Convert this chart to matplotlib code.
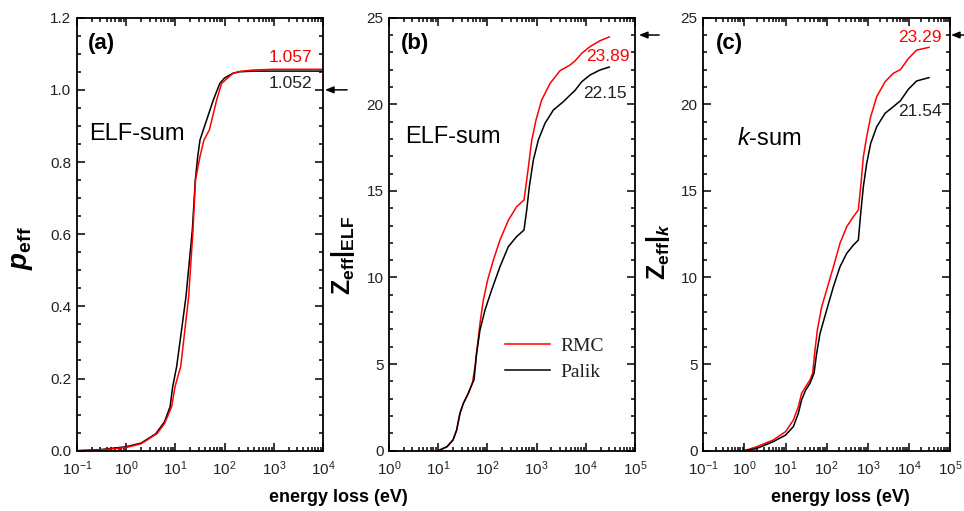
import matplotlib
matplotlib.use("Agg")
import matplotlib.pyplot as plt
from matplotlib.ticker import LogLocator, MultipleLocator, NullFormatter

plt.rcParams['font.family'] = ['Liberation Sans', 'DejaVu Sans']
plt.rcParams['mathtext.fontset'] = 'custom'
plt.rcParams['mathtext.rm'] = 'Liberation Sans'
plt.rcParams['mathtext.bf'] = 'Liberation Sans:bold'
plt.rcParams['mathtext.it'] = 'Liberation Sans:italic'
plt.rcParams['mathtext.cal'] = 'Liberation Sans:bold:italic'
plt.rcParams['axes.unicode_minus'] = False

RED = '#ff0000'
BLACK = '#000000'
TICK_COLOR = '#222222'

# (a) effective number of electrons from the ELF sum rule
a_palik_E = [0.1, 0.3, 1, 2, 4, 6, 7.8, 8.8, 10.6, 13, 16.4, 20, 22.1, 25.4, 28.4,
             31.6, 36.9, 45, 59, 80, 100, 148, 200, 380, 1000, 1e4]
a_palik_p = [0, 0.003, 0.011, 0.021, 0.047, 0.08, 0.122, 0.177, 0.233, 0.323, 0.427,
             0.55, 0.612, 0.75, 0.815, 0.861, 0.889, 0.924, 0.972, 1.018, 1.033,
             1.046, 1.05, 1.052, 1.052, 1.052]
a_rmc_E = [0.1, 0.3, 1, 2, 4.2, 6, 8.4, 9.8, 12.8, 15, 18.6, 22.8, 25.6, 31.6, 38,
           49, 69, 87, 148, 200, 380, 1000, 1e4]
a_rmc_p = [0, 0.002, 0.009, 0.019, 0.047, 0.075, 0.122, 0.177, 0.233, 0.315, 0.427,
           0.612, 0.75, 0.815, 0.861, 0.889, 0.972, 1.018, 1.046, 1.051, 1.055,
           1.057, 1.057]

# (b) Z_eff from the ELF sum rule
b_rmc_E = [10, 15.1, 20, 23.7, 27.7, 32.4, 40.9, 49.4, 56, 62.4, 70.7, 82.6, 101,
           132, 180, 266, 393, 554, 630, 711, 794, 973, 1268, 1870, 2990, 4780,
           6030, 8240, 12170, 19400, 30000]
b_rmc_Z = [0, 0.23, 0.62, 1.19, 2.16, 2.73, 3.31, 3.89, 4.85, 6.0, 7.35, 8.7, 9.85,
           11.0, 12.16, 13.3, 14.09, 14.47, 15.63, 16.8, 17.9, 19.1, 20.25, 21.2,
           21.94, 22.27, 22.5, 22.94, 23.33, 23.67, 23.89]
b_palik_E = [10, 15.1, 20, 23.7, 27.7, 32.4, 40.9, 49.4, 53.4, 60.3, 70.7, 89.4,
             122, 180, 266, 393, 554, 630, 711, 858, 1085, 1480, 2190, 3490, 4780,
             6030, 8240, 12170, 19400, 30000]
b_palik_Z = [0, 0.23, 0.62, 1.19, 2.16, 2.73, 3.31, 3.89, 4.08, 5.62, 6.97, 8.12,
             9.28, 10.62, 11.78, 12.36, 12.74, 13.9, 15.24, 16.78, 17.94, 18.9,
             19.67, 20.15, 20.53, 20.8, 21.3, 21.69, 21.98, 22.15]

# (c) Z_eff from the k sum rule
c_rmc_E = [1, 1.99, 5.05, 10, 15.5, 20.5, 24.6, 30.9, 39.3, 45.7, 51, 59.4, 75.8,
           100, 146, 211, 307, 446, 590, 685, 781, 942, 1177, 1648, 2630, 4170,
           6200, 9800, 15500, 30900]
c_rmc_Z = [0, 0.23, 0.62, 1.1, 1.77, 2.54, 3.31, 3.7, 4.08, 4.47, 5.62, 6.97, 8.31,
           9.28, 10.62, 11.97, 12.93, 13.51, 13.9, 15.43, 16.97, 18.13, 19.28,
           20.44, 21.3, 21.79, 22.0, 22.65, 23.13, 23.29]
c_palik_E = [1, 2, 5, 10, 15.5, 20.5, 24.6, 30.9, 39.3, 49.3, 57.1, 69, 100, 146,
             211, 307, 446, 590, 673, 781, 942, 1177, 1648, 2630, 4170, 6200, 9800,
             15500, 30900]
c_palik_Z = [0, 0.13, 0.52, 0.9, 1.39, 2.16, 2.93, 3.5, 3.89, 4.47, 5.62, 6.77,
             8.12, 9.47, 10.62, 11.39, 11.87, 12.16, 13.7, 15.24, 16.59, 17.74,
             18.7, 19.48, 19.86, 20.2, 20.88, 21.35, 21.54]

series_labels = ['RMC', 'Palik']
panel_tags = ['(a)', '(b)', '(c)']
sum_labels = ['ELF-sum', 'ELF-sum', r'$\mathit{k}$-sum']
a_final = ['1.057', '1.052']
b_final = ['23.89', '22.15']
c_final = ['23.29', '21.54']

fig = plt.figure(figsize=(9.64, 5.11), dpi=100)
W, H = 964, 511


def make_axes(left_px, right_px, top_px=17.7, bottom_px=450.7):
    return fig.add_axes([left_px / W, 1 - bottom_px / H,
                         (right_px - left_px) / W, (bottom_px - top_px) / H])


axA = make_axes(77, 323)
axB = make_axes(389, 635)
axC = make_axes(703.3, 950)


def style_axes(ax, xlim, ylim, ymajor, yminor, yfmt):
    ax.set_xscale('log')
    ax.set_xlim(*xlim)
    ax.set_ylim(*ylim)
    ax.xaxis.set_major_locator(LogLocator(base=10, numticks=20))
    ax.xaxis.set_minor_locator(LogLocator(base=10, subs=range(2, 10), numticks=20))
    ax.xaxis.set_minor_formatter(NullFormatter())
    ax.yaxis.set_major_locator(MultipleLocator(ymajor))
    ax.yaxis.set_minor_locator(MultipleLocator(yminor))
    ax.yaxis.set_major_formatter(yfmt)
    ax.tick_params(which='both', direction='in', top=True, right=True,
                   width=1.1, colors=BLACK, labelcolor=TICK_COLOR, labelsize=11)
    ax.tick_params(which='major', length=6)
    ax.tick_params(which='minor', length=3)
    ax.tick_params(axis='x', which='major', pad=6)
    ax.tick_params(axis='y', which='major', pad=4)
    for s in ax.spines.values():
        s.set_linewidth(1.3)


style_axes(axA, (0.1, 1e4), (0, 1.2), 0.2, 0.05, '{x:.1f}')
style_axes(axB, (1, 1e5), (0, 25), 5, 1, '{x:.0f}')
style_axes(axC, (0.1, 1e5), (0, 25), 5, 1, '{x:.0f}')

lw = 1.1
axA.plot(a_palik_E, a_palik_p, color=BLACK, lw=lw)
axA.plot(a_rmc_E, a_rmc_p, color=RED, lw=lw)
axB.plot(b_rmc_E, b_rmc_Z, color=RED, lw=lw, label=series_labels[0])
axB.plot(b_palik_E, b_palik_Z, color=BLACK, lw=lw, label=series_labels[1])
axC.plot(c_rmc_E, c_rmc_Z, color=RED, lw=lw)
axC.plot(c_palik_E, c_palik_Z, color=BLACK, lw=lw)

leg = axB.legend(loc='upper left', bbox_to_anchor=(0.47, 0.262), frameon=False,
                 prop={'family': 'Liberation Serif', 'size': 14},
                 handlelength=2.35, handletextpad=0.5, labelspacing=0.42,
                 borderaxespad=0, borderpad=0)
for t in leg.get_texts():
    t.set_color('#222222')

# panel tags and sum-rule names
for ax, tag, x in zip([axA, axB, axC], panel_tags, [0.045, 0.049, 0.051]):
    ax.text(x, 0.94, tag, transform=ax.transAxes, fontsize=16, fontweight='bold',
            va='center', ha='left')
axA.text(0.05, 0.731, sum_labels[0], transform=axA.transAxes, fontsize=17, va='center')
axB.text(0.065, 0.725, sum_labels[1], transform=axB.transAxes, fontsize=17, va='center')
axC.text(0.135, 0.721, sum_labels[2], transform=axC.transAxes, fontsize=17, va='center')

# final values
axA.text(0.955, 1.091, a_final[0], transform=axA.get_yaxis_transform(), color=RED,
         fontsize=12.5, ha='right', va='center')
axA.text(0.955, 1.019, a_final[1], transform=axA.get_yaxis_transform(), color='#222222',
         fontsize=12.5, ha='right', va='center')
axB.text(0.98, 22.77, b_final[0], transform=axB.get_yaxis_transform(), color=RED,
         fontsize=12.5, ha='right', va='center')
axB.text(0.967, 20.6, b_final[1], transform=axB.get_yaxis_transform(), color='#222222',
         fontsize=12.5, ha='right', va='center')
axC.text(0.966, 23.88, c_final[0], transform=axC.get_yaxis_transform(), color=RED,
         fontsize=12.5, ha='right', va='center')
axC.text(0.966, 19.59, c_final[1], transform=axC.get_yaxis_transform(), color='#222222',
         fontsize=12.5, ha='right', va='center')

# arrows marking the expected totals
arrow_kw = dict(arrowstyle='-|>,head_length=0.5,head_width=0.2', color=BLACK, lw=1.1,
                shrinkA=0, shrinkB=0)
for ax, yv, xh, xt in [(axA, 1.0, 1.008, 1.098), (axB, 24.0, 1.016, 1.098),
                       (axC, 24.0, 1.004, 1.06)]:
    ax.annotate('', xy=(xh, yv), xytext=(xt, yv), xycoords=ax.get_yaxis_transform(),
                textcoords=ax.get_yaxis_transform(), arrowprops=arrow_kw,
                annotation_clip=False)

# axis titles
fig.text(22 / W, 1 - 248 / H, r'$\mathcal{p}_{\mathbf{eff}}$', rotation=90,
         fontsize=20, ha='center', va='center')
fig.text(343 / W, 1 - 255 / H, r'$\mathbf{Z}_{\mathbf{eff}}\mathbf{|}_{\mathbf{ELF}}$',
         rotation=90, fontsize=18, ha='center', va='center')
fig.text(658 / W, 1 - 251.7 / H, r'$\mathbf{Z}_{\mathbf{eff}}\mathbf{|}_{\mathcal{k}}$',
         rotation=90, fontsize=18, ha='center', va='center')
fig.text(338 / W, 1 - 497 / H, 'energy loss (eV)', fontsize=13, fontweight='bold',
         ha='center', va='center')
fig.text(840 / W, 1 - 497 / H, 'energy loss (eV)', fontsize=13, fontweight='bold',
         ha='center', va='center')

fig.savefig('out.png', dpi=100)
